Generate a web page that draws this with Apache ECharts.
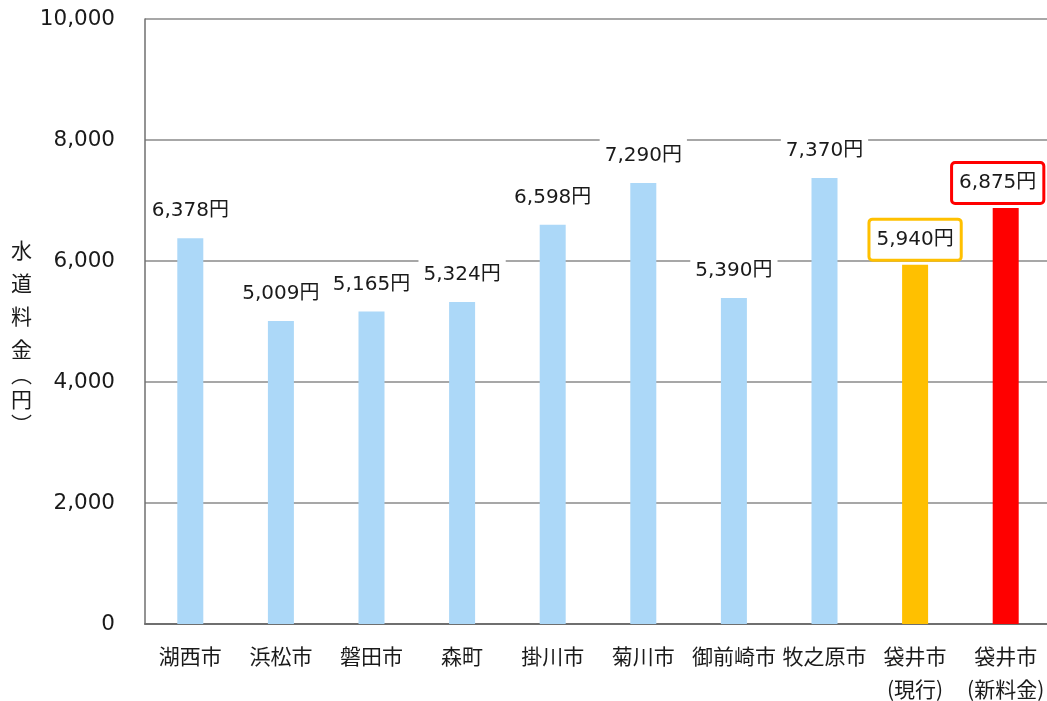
<!DOCTYPE html>
<html><head><meta charset="utf-8">
<script src="https://cdn.jsdelivr.net/npm/echarts@6/dist/echarts.min.js"></script>
<style>html,body{margin:0;padding:0;background:#fff}#c{width:1047px;height:701px}</style>
</head><body><div id="c"></div>
<script>
var categories = ['湖西市','浜松市','磐田市','森町','掛川市','菊川市','御前崎市','牧之原市','袋井市\n(現行)','袋井市\n(新料金)'];
var values = [6378, 5009, 5165, 5324, 6598, 7290, 5390, 7370, 5940, 6875];
var yTicks = [0, 2000, 4000, 6000, 8000, 10000];
var yName = '{c|水}\n{c|道}\n{c|料}\n{c|金}\n{p|︵}\n{c|円}\n{p|︶}';

var FONT = "'DejaVu Sans', 'Noto Sans CJK JP', sans-serif";
var CJK = "'Noto Sans CJK JP', sans-serif";
var blue = '#acd8f8', orange = '#ffc000', red = '#ff0000';
function fmt(v){ return v.toLocaleString('en-US') + '円'; }

var data = values.map(function(v, i){
  var item = { value: v, itemStyle: { color: blue } };
  if (i === 8) {
    item.itemStyle = { color: orange };
    item.label = { borderColor: orange, borderWidth: 3, borderRadius: 2, padding: [8, 6, 8, 6] };
  } else if (i === 9) {
    item.itemStyle = { color: red };
    item.label = { borderColor: red, borderWidth: 3, borderRadius: 2, padding: [8, 6, 8, 6], offset: [-8, 0] };
  }
  return item;
});

var chart = echarts.init(document.getElementById('c'), null, { renderer: 'canvas' });
chart.setOption({
  animation: false,
  backgroundColor: '#fff',
  grid: { left: 145, top: 19, bottom: 77, width: 906, containLabel: false, outerBoundsMode: 'none' },
  xAxis: {
    type: 'category',
    data: categories,
    axisLine: { lineStyle: { color: '#6f6f6f', width: 2 } },
    axisTick: { inside: true, length: 7, lineStyle: { color: '#6f6f6f', width: 1.5 } },
    axisLabel: { color: '#1a1a1a', fontSize: 21, fontFamily: CJK, margin: 16, lineHeight: 33, interval: 0 }
  },
  yAxis: {
    type: 'value',
    min: yTicks[0], max: yTicks[yTicks.length - 1], interval: 2000,
    axisLine: { show: true, lineStyle: { color: '#6f6f6f', width: 1.5 } },
    axisTick: { show: false },
    splitLine: { lineStyle: { color: '#8a8a8a', width: 1.5 } },
    axisLabel: {
      color: '#1a1a1a', fontSize: 21.5, fontFamily: FONT, margin: 30,
      formatter: function(v){ return yTicks.indexOf(v) >= 0 ? v.toLocaleString('en-US') : ''; }
    }
  },
  graphic: [{
    type: 'text',
    left: 11, top: 240,
    style: {
      text: yName,
      fill: '#1a1a1a', align: 'left',
      rich: {
        c: { fontSize: 21, fontFamily: CJK, lineHeight: 33, color: '#1a1a1a' },
        p: { fontSize: 21, fontFamily: CJK, lineHeight: 17, color: '#1a1a1a' }
      }
    }
  }],
  series: [{
    type: 'bar',
    data: data,
    barWidth: 26,
    label: {
      show: true,
      position: 'top',
      distance: 6,
      formatter: function(p){ return fmt(p.value); },
      color: '#1a1a1a',
      fontSize: 20,
      fontFamily: FONT,
      backgroundColor: '#fff',
      padding: [9, 5, 10, 5],
      lineHeight: 22
    }
  }]
});
</script></body></html>
